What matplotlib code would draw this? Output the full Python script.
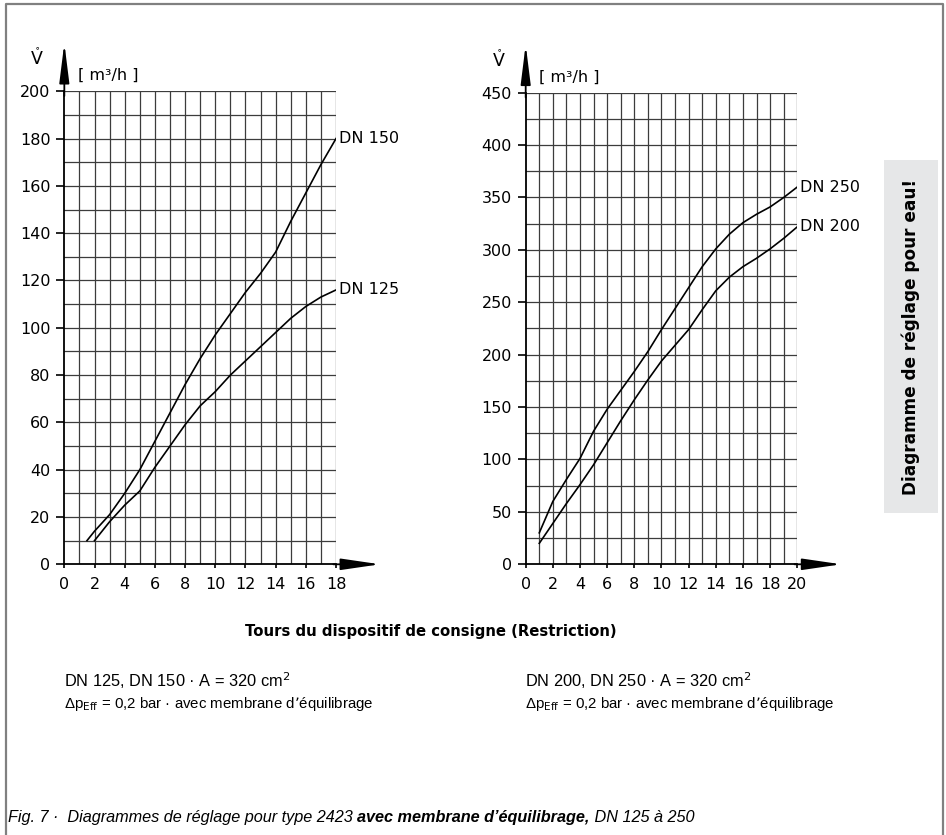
import numpy as np
import matplotlib.pyplot as plt
from matplotlib.patches import Rectangle
from matplotlib.lines import Line2D

# left chart: DN 125 / DN 150
x_dn150 = [1.5, 2, 3, 4, 5, 6, 7, 8, 9, 10, 11, 12, 13, 14, 15, 16, 17, 18]
y_dn150 = [10, 14, 21, 30, 40, 52, 64, 76, 87, 97, 106, 115, 123, 132, 145, 157, 169, 180]
x_dn125 = [2, 3, 4, 5, 6, 7, 8, 9, 10, 11, 12, 13, 14, 15, 16, 17, 18]
y_dn125 = [10, 18, 25, 31, 41, 50, 59, 67, 73, 80, 86, 92, 98, 104, 109, 113, 116]

# right chart: DN 200 / DN 250
x_right = list(range(1, 21))
y_dn250 = [30, 60, 81, 101, 127, 148, 166, 184, 203, 224, 244, 264, 284, 301, 315, 326, 334, 341, 350, 360]
y_dn200 = [20, 39, 58, 76, 95, 116, 137, 157, 176, 194, 209, 224, 243, 261, 274, 284, 292, 301, 311, 322]

plt.rcParams['font.family'] = 'DejaVu Sans'
fig = plt.figure(figsize=(9.46, 8.35), dpi=100)

FS = 11.5
grid_col = '#3c3c3c'
narrow = ['Liberation Sans Narrow', 'Liberation Sans', 'DejaVu Sans']


def setup_axes(ax, xmax, ymax, xstep, ystep, xlabstep, ylabstep):
    ax.set_xlim(0, xmax)
    ax.set_ylim(0, ymax)
    for gx in np.arange(xstep, xmax + 0.01, xstep):
        ax.axvline(gx, color=grid_col, lw=0.9, zorder=1)
    for gy in np.arange(ystep, ymax + 0.01, ystep):
        ax.axhline(gy, color=grid_col, lw=0.9, zorder=1)
    ax.set_xticks(np.arange(0, xmax + 0.01, xlabstep))
    ax.set_yticks(np.arange(0, ymax + 0.01, ylabstep))
    ax.tick_params(axis='y', length=6, width=1.2, pad=4, labelsize=FS)
    ax.tick_params(axis='x', length=3, width=1.2, pad=6, labelsize=FS)
    for s in ['top', 'right']:
        ax.spines[s].set_visible(False)
    for s in ['left', 'bottom']:
        ax.spines[s].set_linewidth(1.3)
        ax.spines[s].set_zorder(3)
    # axis arrows
    ax.annotate('', xy=(0, 1.102), xytext=(0, 0.99), xycoords='axes fraction',
                arrowprops=dict(arrowstyle='-|>,head_length=2.4,head_width=0.3',
                                color='black', lw=1.3, mutation_scale=10,
                                shrinkA=0, shrinkB=0))
    ax.annotate('', xy=(1.162, 0), xytext=(0.99, 0), xycoords='axes fraction',
                arrowprops=dict(arrowstyle='-|>,head_length=2.4,head_width=0.35',
                                color='black', lw=1.3, mutation_scale=10,
                                shrinkA=0, shrinkB=0))
    ax.text(-0.1, 1.07, r'$\mathring{\mathrm{V}}$', transform=ax.transAxes,
            fontsize=FS + 1, ha='center', va='center')
    ax.text(0.05, 1.033, '[ m\u00b3/h ]', transform=ax.transAxes,
            fontsize=FS, ha='left', va='center')


ax1 = fig.add_axes([0.068, 0.3242, 0.2872, 0.5665])
setup_axes(ax1, 18, 200, 1, 10, 2, 20)
ax1.plot(x_dn150, y_dn150, color='black', lw=1.2, zorder=4)
ax1.plot(x_dn125, y_dn125, color='black', lw=1.2, zorder=4)
ax1.annotate('DN 150', xy=(x_dn150[-1], y_dn150[-1]), xytext=(2, 0),
             textcoords='offset points', fontsize=FS, va='center', ha='left')
ax1.annotate('DN 125', xy=(x_dn125[-1], y_dn125[-1]), xytext=(2, 0),
             textcoords='offset points', fontsize=FS, va='center', ha='left')

ax2 = fig.add_axes([0.5557, 0.3242, 0.2871, 0.5648])
setup_axes(ax2, 20, 450, 1, 25, 2, 50)
ax2.plot(x_right, y_dn250, color='black', lw=1.2, zorder=4)
ax2.plot(x_right, y_dn200, color='black', lw=1.2, zorder=4)
ax2.annotate('DN 250', xy=(x_right[-1], y_dn250[-1]), xytext=(2, 0),
             textcoords='offset points', fontsize=FS, va='center', ha='left')
ax2.annotate('DN 200', xy=(x_right[-1], y_dn200[-1]), xytext=(2, 0),
             textcoords='offset points', fontsize=FS, va='center', ha='left')

fig.text(0.4556, 0.2443, 'Tours du dispositif de consigne (Restriction)',
         fontsize=10.7, fontweight='bold', ha='center', va='center')

for xpos, first in [(0.068, 'DN 125, DN 150 \u00b7 A = 320 cm$^2$'),
                    (0.555, 'DN 200, DN 250 \u00b7 A = 320 cm$^2$')]:
    fig.text(xpos, 0.1844, first, fontsize=11.8, ha='left', va='center',
             family=narrow)
    fig.text(xpos, 0.157, '\u0394p$_{\\mathrm{Eff}}$ = 0,2 bar \u00b7 avec membrane d\u2019\u00e9quilibrage',
             fontsize=10.8, ha='left', va='center', family=narrow)

# side tab
fig.patches.append(Rectangle((0.9345, 0.3856), 0.0571, 0.4228, transform=fig.transFigure,
                             facecolor='#e6e7e8', edgecolor='none', zorder=0))
fig.text(0.9625, 0.597, 'Diagramme de r\u00e9glage pour eau!', rotation=90,
         fontsize=12.2, fontweight='bold', ha='center', va='center')

# page frame (open at the bottom)
fx = [6 / 946, 6 / 946, 943 / 946, 943 / 946]
fy = [0.0, 1 - 4 / 835, 1 - 4 / 835, 0.0]
fig.lines.append(Line2D(fx, fy, transform=fig.transFigure, color='#808080', lw=1.6))

# caption with a bold part
renderer = fig.canvas.get_renderer()
parts = [('Fig. 7 \u00b7  Diagrammes de r\u00e9glage pour type 2423 ', 'normal'),
         ('avec membrane d\u2019\u00e9quilibrage,', 'bold'),
         (' DN 125 \u00e0 250', 'normal')]
cx = 0.0085
for txt, wt in parts:
    t = fig.text(cx, 0.0204, txt, fontsize=11.7, style='italic', fontweight=wt,
                 ha='left', va='center', family=narrow)
    bb = t.get_window_extent(renderer=renderer)
    cx += bb.width / fig.bbox.width

fig.savefig('out.png', dpi=100)
